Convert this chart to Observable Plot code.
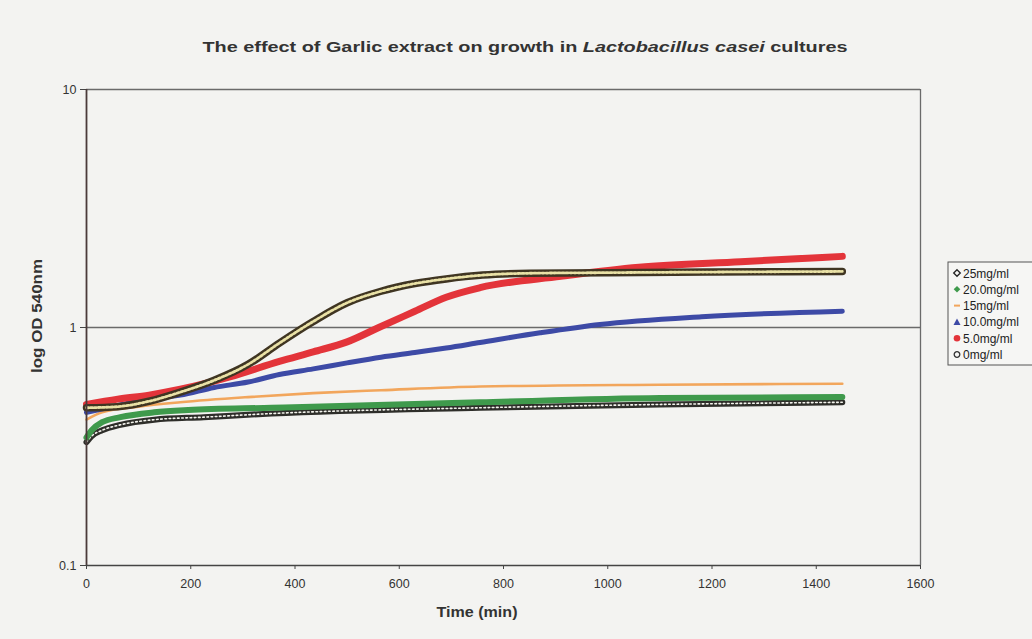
<!DOCTYPE html>
<html>
<head>
<meta charset="utf-8">
<script src="https://cdn.jsdelivr.net/npm/d3@7"></script>
<script src="https://cdn.jsdelivr.net/npm/@observablehq/plot@0.6"></script>
<style>
  html, body { margin: 0; padding: 0; background: #f3f3f1; }
  #chart { width: 1032px; height: 639px; }
</style>
</head>
<body>
<div id="chart"></div>
<script>
// ---- Data ----
const seriesNames = ["25mg/ml", "20.0mg/ml", "15mg/ml", "10.0mg/ml", "5.0mg/ml", "0mg/ml"];

const t25 = [0, 10, 30, 65, 130, 225, 355, 755, 1100, 1450];
const v25 = [0.33, 0.35, 0.37, 0.39, 0.41, 0.42, 0.435, 0.46, 0.475, 0.485];

const t20 = [0, 10, 30, 65, 130, 195, 355, 755, 1100, 1450];
const v20 = [0.345, 0.37, 0.40, 0.42, 0.44, 0.45, 0.46, 0.485, 0.505, 0.51];

const t15 = [0, 30, 100, 180, 310, 435, 565, 755, 1100, 1450];
const v15 = [0.41, 0.44, 0.465, 0.485, 0.51, 0.53, 0.545, 0.565, 0.575, 0.58];

const t10 = [0, 60, 120, 180, 245, 310, 370, 435, 500, 565, 630, 690, 755, 870, 985, 1180, 1450];
const v10 = [0.44, 0.47, 0.50, 0.52, 0.56, 0.59, 0.635, 0.67, 0.71, 0.75, 0.785, 0.82, 0.865, 0.95, 1.03, 1.11, 1.17];

const t5 = [0, 60, 120, 180, 275, 370, 435, 500, 565, 630, 690, 755, 910, 1060, 1255, 1450];
const v5 = [0.475, 0.50, 0.52, 0.55, 0.62, 0.72, 0.79, 0.87, 1.01, 1.17, 1.34, 1.47, 1.64, 1.79, 1.89, 1.99];

const t0 = [0, 60, 120, 180, 245, 310, 370, 435, 500, 565, 630, 690, 760, 850, 1000, 1200, 1450];
const v0 = [0.46, 0.465, 0.49, 0.535, 0.60, 0.70, 0.86, 1.06, 1.27, 1.42, 1.53, 1.60, 1.66, 1.69, 1.70, 1.71, 1.72];

const xTicks = [0, 200, 400, 600, 800, 1000, 1200, 1400, 1600];
const yTicks = [0.1, 1, 10];
const yTickLabels = ["0.1", "1", "10"];

// ---- Build tables ----
const toRows = (ts, vs, name) => ts.map((t, i) => ({time: t, od: vs[i], series: name}));
const d25 = toRows(t25, v25, seriesNames[0]);
const d20 = toRows(t20, v20, seriesNames[1]);
const d15 = toRows(t15, v15, seriesNames[2]);
const d10 = toRows(t10, v10, seriesNames[3]);
const d5  = toRows(t5,  v5,  seriesNames[4]);
const d0  = toRows(t0,  v0,  seriesNames[5]);

const font = "'Liberation Sans', Arial, Helvetica, sans-serif";
const curve = "monotone-x";

const plot = Plot.plot({
  width: 1032,
  height: 639,
  marginLeft: 86,
  marginRight: 112,
  marginTop: 89,
  marginBottom: 74,
  style: {background: "#f3f3f1", fontFamily: font, fontSize: "12px", color: "#333"},
  x: {domain: [0, 1600]},
  y: {type: "log", domain: [0.1, 10]},
  marks: [
    Plot.ruleY([1, 10], {stroke: "#6a6a6a", strokeWidth: 1.3}),
    Plot.ruleX([1600], {stroke: "#6a6a6a", strokeWidth: 1.3}),
    Plot.axisX({ticks: xTicks, tickFormat: d => String(d), tickSize: 4, tickPadding: 10, label: null, stroke: "#444", fontSize: 12.5}),
    Plot.axisY({ticks: yTicks, tickFormat: d => yTickLabels[yTicks.indexOf(d)], tickSize: 6, tickPadding: 4, label: null, stroke: "#444", fontSize: 12.5}),
    // 25 mg/ml : dark band with open diamonds look
    Plot.line(d25, {x: "time", y: "od", stroke: "#2e2e2a", strokeWidth: 6, curve}),
    Plot.line(d25, {x: "time", y: "od", stroke: "#f4f4ee", strokeWidth: 1.6, strokeDasharray: "1.6,2.6", curve}),
    // 20.0 mg/ml : green
    Plot.line(d20, {x: "time", y: "od", stroke: "#3f9a4c", strokeWidth: 6, curve}),
    // 15 mg/ml : orange thin
    Plot.line(d15, {x: "time", y: "od", stroke: "#f2a65c", strokeWidth: 2.6, curve}),
    // 10.0 mg/ml : blue
    Plot.line(d10, {x: "time", y: "od", stroke: "#3d4aa6", strokeWidth: 5, curve}),
    // 5.0 mg/ml : red
    Plot.line(d5, {x: "time", y: "od", stroke: "#e3343a", strokeWidth: 7, curve}),
    // 0 mg/ml : dark band with pale open circles look
    Plot.line(d0, {x: "time", y: "od", stroke: "#3f3522", strokeWidth: 7.5, curve}),
    Plot.line(d0, {x: "time", y: "od", stroke: "#e9e1a6", strokeWidth: 2.8, strokeDasharray: "2,2", curve}),
    Plot.ruleX([0], {stroke: "#4a3a3a", strokeWidth: 1.8}),
    Plot.ruleY([0.1], {stroke: "#444", strokeWidth: 1.5})
  ]
});

document.getElementById("chart").appendChild(plot);

// ---- Titles, axis labels and legend inside the SVG ----
const svg = d3.select(plot);

const title = svg.append("text")
  .attr("x", 525).attr("y", 52)
  .attr("text-anchor", "middle")
  .attr("font-family", font).attr("font-size", 15).attr("font-weight", "bold")
  .attr("textLength", 645).attr("lengthAdjust", "spacingAndGlyphs")
  .attr("fill", "#333");
title.append("tspan").text("The effect of Garlic extract on growth in ");
title.append("tspan").attr("font-style", "italic").text("Lactobacillus casei");
title.append("tspan").text(" cultures");

svg.append("text")
  .attr("x", 477).attr("y", 617)
  .attr("text-anchor", "middle")
  .attr("font-family", font).attr("font-size", 14).attr("font-weight", "bold")
  .attr("textLength", 81).attr("lengthAdjust", "spacingAndGlyphs")
  .attr("fill", "#333")
  .text("Time (min)");

svg.append("text")
  .attr("transform", "translate(42,316) rotate(-90)")
  .attr("text-anchor", "middle")
  .attr("font-family", font).attr("font-size", 14).attr("font-weight", "bold")
  .attr("textLength", 114).attr("lengthAdjust", "spacingAndGlyphs")
  .attr("fill", "#333")
  .text("log OD 540nm");

// Legend
const lg = svg.append("g").attr("transform", "translate(948,262)");
lg.append("rect").attr("x", 0).attr("y", 0).attr("width", 100).attr("height", 103)
  .attr("fill", "#f6f6f4").attr("stroke", "#555").attr("stroke-width", 1);

const legendItems = [
  {name: seriesNames[0], kind: "diamondOpen", color: "#222"},
  {name: seriesNames[1], kind: "diamond", color: "#3f9a4c"},
  {name: seriesNames[2], kind: "dash", color: "#f2a65c"},
  {name: seriesNames[3], kind: "triangle", color: "#3d4aa6"},
  {name: seriesNames[4], kind: "circle", color: "#e3343a"},
  {name: seriesNames[5], kind: "circleOpen", color: "#333"}
];
legendItems.forEach((it, i) => {
  const y = 11 + i * 16.3;
  const g = lg.append("g").attr("transform", `translate(9,${y})`);
  if (it.kind === "diamondOpen") {
    g.append("path").attr("d", "M0,-3.3L3.3,0L0,3.3L-3.3,0Z").attr("fill", "#f6f6f4").attr("stroke", it.color).attr("stroke-width", 1.3);
  } else if (it.kind === "diamond") {
    g.append("path").attr("d", "M0,-3.3L3.3,0L0,3.3L-3.3,0Z").attr("fill", it.color);
  } else if (it.kind === "dash") {
    g.append("line").attr("x1", -3).attr("x2", 3).attr("y1", 0).attr("y2", 0).attr("stroke", it.color).attr("stroke-width", 2);
  } else if (it.kind === "triangle") {
    g.append("path").attr("d", "M0,-3.5L3.5,3L-3.5,3Z").attr("fill", it.color);
  } else if (it.kind === "circle") {
    g.append("circle").attr("r", 3.3).attr("fill", it.color);
  } else {
    g.append("circle").attr("r", 2.8).attr("fill", "#f6f6f4").attr("stroke", it.color).attr("stroke-width", 1.3);
  }
  lg.append("text").attr("x", 15).attr("y", y + 4.5)
    .attr("text-anchor", "start")
    .attr("font-family", font).attr("font-size", 12).attr("fill", "#222")
    .text(it.name);
});
</script>
</body>
</html>
